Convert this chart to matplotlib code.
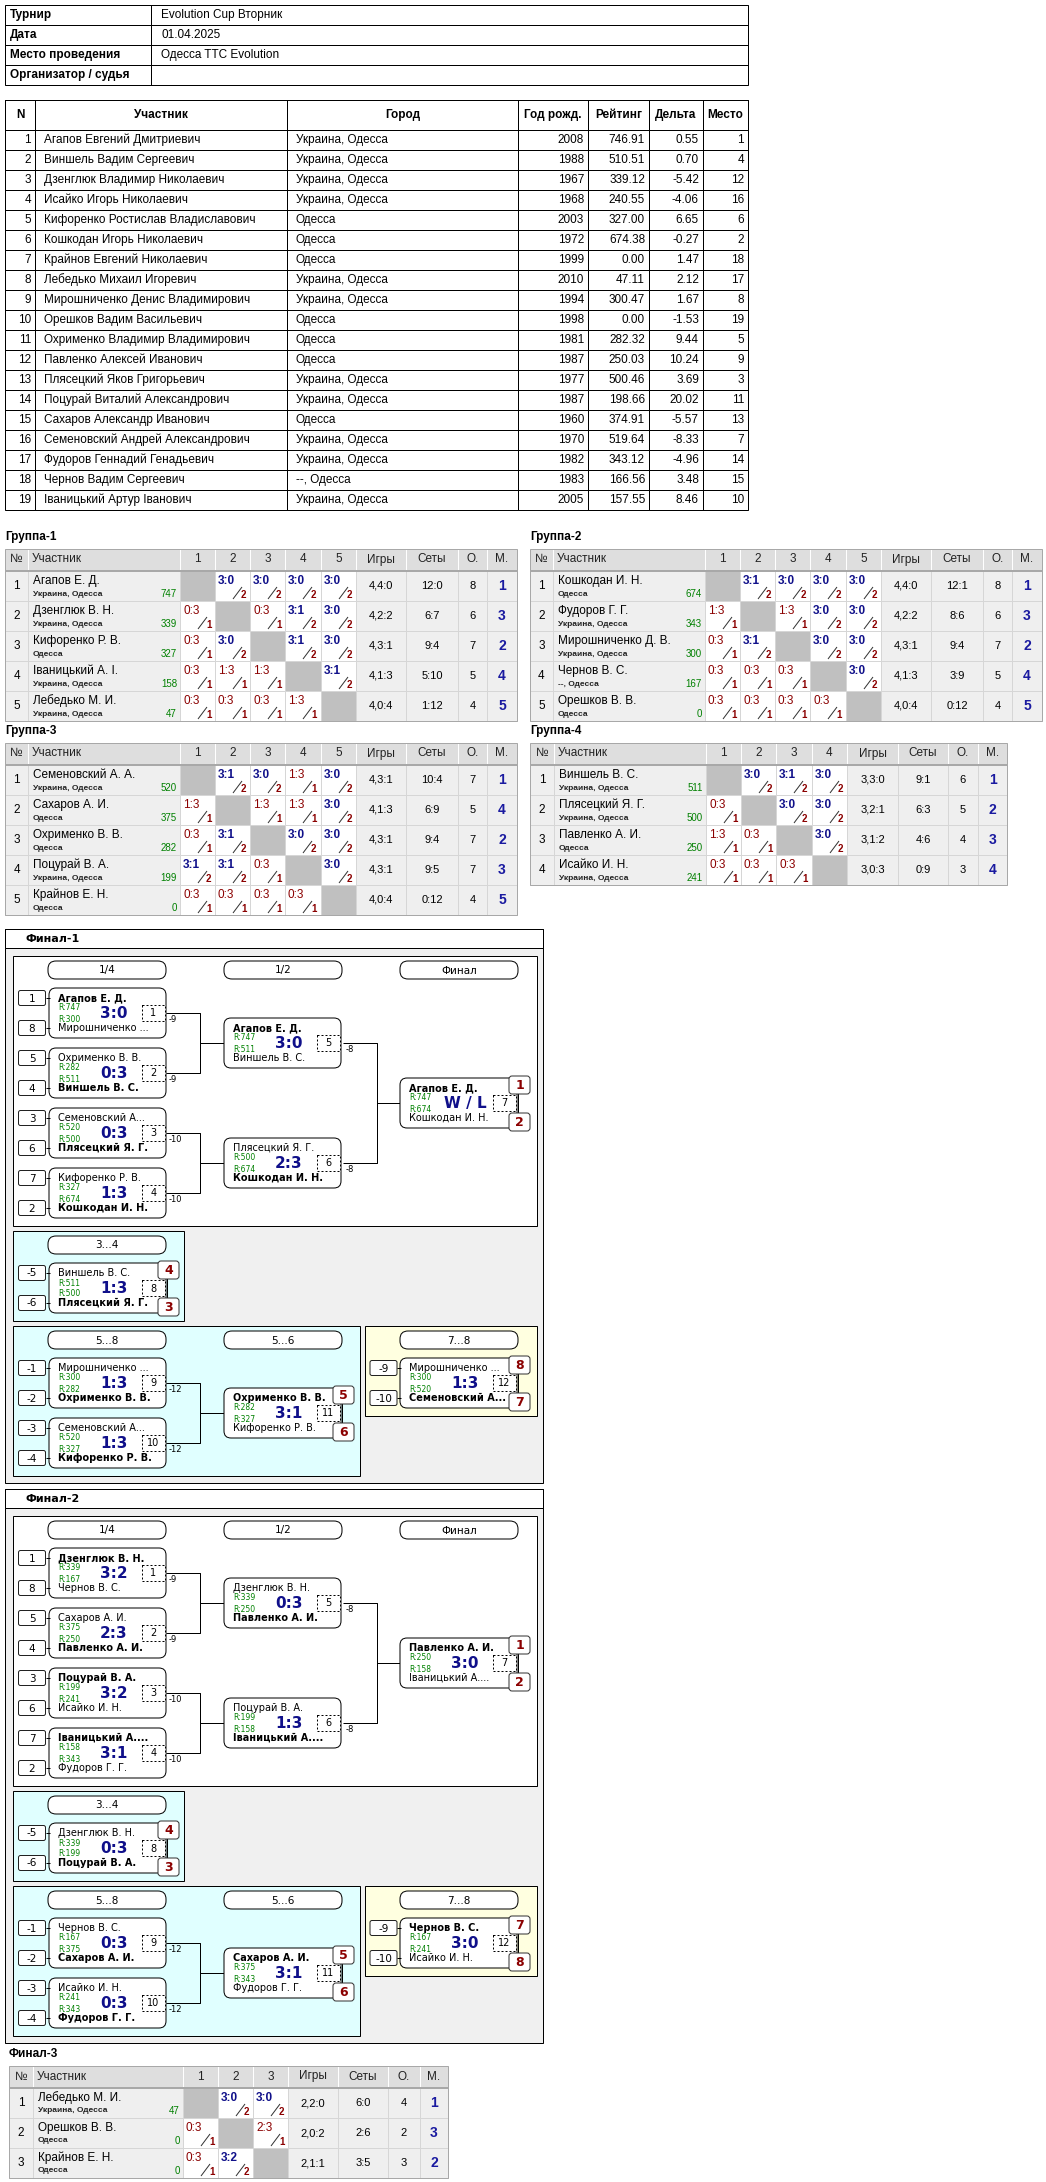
import matplotlib
matplotlib.use("Agg")
import matplotlib.pyplot as plt
from matplotlib.patches import Rectangle, FancyBboxPatch

plt.rcParams['font.family'] = ['Liberation Sans', 'DejaVu Sans']

# ---------------- data ----------------
info_labels = ['Турнир', 'Дата', 'Место проведения', 'Организатор / судья']
info_values = ['Evolution Cup Вторник', '01.04.2025', 'Одесса TTC Evolution', '']

main_cols = ['N', 'Участник', 'Город', 'Год рожд.', 'Рейтинг', 'Дельта', 'Место']
players = ['Агапов Евгений Дмитриевич', 'Виншель Вадим Сергеевич', 'Дзенглюк Владимир Николаевич',
           'Исайко Игорь Николаевич', 'Кифоренко Ростислав Владиславович', 'Кошкодан Игорь Николаевич',
           'Крайнов Евгений Николаевич', 'Лебедько Михаил Игоревич', 'Мирошниченко Денис Владимирович',
           'Орешков Вадим Васильевич', 'Охрименко Владимир Владимирович', 'Павленко Алексей Иванович',
           'Плясецкий Яков Григорьевич', 'Поцурай Виталий Александрович', 'Сахаров Александр Иванович',
           'Семеновский Андрей Александрович', 'Фудоров Геннадий Генадьевич', 'Чернов Вадим Сергеевич',
           'Іваницький Артур Іванович']
cities = ['Украина, Одесса', 'Украина, Одесса', 'Украина, Одесса', 'Украина, Одесса', 'Одесса', 'Одесса',
          'Одесса', 'Украина, Одесса', 'Украина, Одесса', 'Одесса', 'Одесса', 'Одесса', 'Украина, Одесса',
          'Украина, Одесса', 'Одесса', 'Украина, Одесса', 'Украина, Одесса', '--, Одесса', 'Украина, Одесса']
years = [2008, 1988, 1967, 1968, 2003, 1972, 1999, 2010, 1994, 1998, 1981, 1987, 1977, 1987, 1960, 1970,
         1982, 1983, 2005]
ratings = [746.91, 510.51, 339.12, 240.55, 327.00, 674.38, 0.00, 47.11, 300.47, 0.00, 282.32, 250.03,
           500.46, 198.66, 374.91, 519.64, 343.12, 166.56, 157.55]
deltas = [0.55, 0.70, -5.42, -4.06, 6.65, -0.27, 1.47, 2.12, 1.67, -1.53, 9.44, 10.24, 3.69, 20.02,
          -5.57, -8.33, -4.96, 3.48, 8.46]
places = [1, 4, 12, 16, 6, 2, 18, 17, 8, 19, 5, 9, 3, 11, 13, 7, 14, 15, 10]

g1_names = ['Агапов Е. Д.', 'Дзенглюк В. Н.', 'Кифоренко Р. В.', 'Іваницький А. І.', 'Лебедько М. И.']
g1_cities = ['Украина, Одесса', 'Украина, Одесса', 'Одесса', 'Украина, Одесса', 'Украина, Одесса']
g1_rat = [747, 339, 327, 158, 47]
g1_scores = [[None, '3:0', '3:0', '3:0', '3:0'], ['0:3', None, '0:3', '3:1', '3:0'],
             ['0:3', '3:0', None, '3:1', '3:0'], ['0:3', '1:3', '1:3', None, '3:1'],
             ['0:3', '0:3', '0:3', '1:3', None]]
g1_games = ['4,4:0', '4,2:2', '4,3:1', '4,1:3', '4,0:4']
g1_sets = ['12:0', '6:7', '9:4', '5:10', '1:12']
g1_pts = [8, 6, 7, 5, 4]
g1_place = [1, 3, 2, 4, 5]

g2_names = ['Кошкодан И. Н.', 'Фудоров Г. Г.', 'Мирошниченко Д. В.', 'Чернов В. С.', 'Орешков В. В.']
g2_cities = ['Одесса', 'Украина, Одесса', 'Украина, Одесса', '--, Одесса', 'Одесса']
g2_rat = [674, 343, 300, 167, 0]
g2_scores = [[None, '3:1', '3:0', '3:0', '3:0'], ['1:3', None, '1:3', '3:0', '3:0'],
             ['0:3', '3:1', None, '3:0', '3:0'], ['0:3', '0:3', '0:3', None, '3:0'],
             ['0:3', '0:3', '0:3', '0:3', None]]
g2_games = ['4,4:0', '4,2:2', '4,3:1', '4,1:3', '4,0:4']
g2_sets = ['12:1', '8:6', '9:4', '3:9', '0:12']
g2_pts = [8, 6, 7, 5, 4]
g2_place = [1, 3, 2, 4, 5]

g3_names = ['Семеновский А. А.', 'Сахаров А. И.', 'Охрименко В. В.', 'Поцурай В. А.', 'Крайнов Е. Н.']
g3_cities = ['Украина, Одесса', 'Одесса', 'Одесса', 'Украина, Одесса', 'Одесса']
g3_rat = [520, 375, 282, 199, 0]
g3_scores = [[None, '3:1', '3:0', '1:3', '3:0'], ['1:3', None, '1:3', '1:3', '3:0'],
             ['0:3', '3:1', None, '3:0', '3:0'], ['3:1', '3:1', '0:3', None, '3:0'],
             ['0:3', '0:3', '0:3', '0:3', None]]
g3_games = ['4,3:1', '4,1:3', '4,3:1', '4,3:1', '4,0:4']
g3_sets = ['10:4', '6:9', '9:4', '9:5', '0:12']
g3_pts = [7, 5, 7, 7, 4]
g3_place = [1, 4, 2, 3, 5]

g4_names = ['Виншель В. С.', 'Плясецкий Я. Г.', 'Павленко А. И.', 'Исайко И. Н.']
g4_cities = ['Украина, Одесса', 'Украина, Одесса', 'Одесса', 'Украина, Одесса']
g4_rat = [511, 500, 250, 241]
g4_scores = [[None, '3:0', '3:1', '3:0'], ['0:3', None, '3:0', '3:0'],
             ['1:3', '0:3', None, '3:0'], ['0:3', '0:3', '0:3', None]]
g4_games = ['3,3:0', '3,2:1', '3,1:2', '3,0:3']
g4_sets = ['9:1', '6:3', '4:6', '0:9']
g4_pts = [6, 5, 4, 3]
g4_place = [1, 2, 3, 4]

f3_names = ['Лебедько М. И.', 'Орешков В. В.', 'Крайнов Е. Н.']
f3_cities = ['Украина, Одесса', 'Одесса', 'Одесса']
f3_rat = [47, 0, 0]
f3_scores = [[None, '3:0', '3:0'], ['0:3', None, '2:3'], ['0:3', '3:2', None]]
f3_games = ['2,2:0', '2,0:2', '2,1:1']
f3_sets = ['6:0', '2:6', '3:5']
f3_pts = [4, 2, 3]
f3_place = [1, 3, 2]

# bracket matches: (top, top rating, bottom, bottom rating, score, winner 0=top 1=bottom)
f1_matches = [
    ('Агапов Е. Д.', 747, 'Мирошниченко ...', 300, '3:0', 0),
    ('Охрименко В. В.', 282, 'Виншель В. С.', 511, '0:3', 1),
    ('Семеновский А...', 520, 'Плясецкий Я. Г.', 500, '0:3', 1),
    ('Кифоренко Р. В.', 327, 'Кошкодан И. Н.', 674, '1:3', 1),
    ('Агапов Е. Д.', 747, 'Виншель В. С.', 511, '3:0', 0),
    ('Плясецкий Я. Г.', 500, 'Кошкодан И. Н.', 674, '2:3', 1),
    ('Агапов Е. Д.', 747, 'Кошкодан И. Н.', 674, 'W / L', 0),
    ('Виншель В. С.', 511, 'Плясецкий Я. Г.', 500, '1:3', 1),
    ('Мирошниченко ...', 300, 'Охрименко В. В.', 282, '1:3', 1),
    ('Семеновский А...', 520, 'Кифоренко Р. В.', 327, '1:3', 1),
    ('Охрименко В. В.', 282, 'Кифоренко Р. В.', 327, '3:1', 0),
    ('Мирошниченко ...', 300, 'Семеновский А...', 520, '1:3', 1),
]
f1_places = {7: (1, 2), 8: (4, 3), 11: (5, 6), 12: (8, 7)}

f2_matches = [
    ('Дзенглюк В. Н.', 339, 'Чернов В. С.', 167, '3:2', 0),
    ('Сахаров А. И.', 375, 'Павленко А. И.', 250, '2:3', 1),
    ('Поцурай В. А.', 199, 'Исайко И. Н.', 241, '3:2', 0),
    ('Іваницький А....', 158, 'Фудоров Г. Г.', 343, '3:1', 0),
    ('Дзенглюк В. Н.', 339, 'Павленко А. И.', 250, '0:3', 1),
    ('Поцурай В. А.', 199, 'Іваницький А....', 158, '1:3', 1),
    ('Павленко А. И.', 250, 'Іваницький А....', 158, '3:0', 0),
    ('Дзенглюк В. Н.', 339, 'Поцурай В. А.', 199, '0:3', 1),
    ('Чернов В. С.', 167, 'Сахаров А. И.', 375, '0:3', 1),
    ('Исайко И. Н.', 241, 'Фудоров Г. Г.', 343, '0:3', 1),
    ('Сахаров А. И.', 375, 'Фудоров Г. Г.', 343, '3:1', 0),
    ('Чернов В. С.', 167, 'Исайко И. Н.', 241, '3:0', 0),
]
f2_places = {7: (1, 2), 8: (4, 3), 11: (5, 6), 12: (7, 8)}

qf_seeds = ['1', '8', '5', '4', '3', '6', '7', '2']
qf_losers = ['-9', '-9', '-10', '-10']
sf_losers = ['-8', '-8']
s34_seeds = ['-5', '-6']
s58_seeds = ['-1', '-2', '-3', '-4']
s58_losers = ['-12', '-12']
s78_seeds = ['-9', '-10']

# ---------------- drawing helpers ----------------
fig = plt.figure(figsize=(10.46, 21.82), dpi=100)
ax = fig.add_axes([0, 0, 1, 1])
ax.set_xlim(0, 1046)
ax.set_ylim(2182, 0)
ax.axis('off')

PX = 0.72
BLUE = '#10108a'
RED = '#8b0000'
GREEN = '#008000'


def rect(x0, y0, x1, y1, fc='none', ec='black', lw=1, ls='-', z=1):
    ax.add_patch(Rectangle((x0, y0), x1 - x0, y1 - y0, fc=fc, ec=ec, lw=lw * PX, ls=ls, zorder=z))


def rbox(x0, y0, w, h, r=6, fc='white', ec='black', lw=1, z=2):
    ax.add_patch(FancyBboxPatch((x0, y0), w, h, boxstyle=f'round,pad=0,rounding_size={r}',
                                fc=fc, ec=ec, lw=lw * PX, zorder=z))


def txt(x, y, s, size=8.5, ha='left', **kw):
    ax.text(x, y, s, fontsize=size, ha=ha, va='center', **kw)


def line(xs, ys, lw=1, color='black', z=1):
    ax.plot(xs, ys, color=color, lw=lw * PX, zorder=z, solid_capstyle='butt')


# ---------------- info table ----------------
for i, (lab, val) in enumerate(zip(info_labels, info_values)):
    y = 5 + 20 * i
    rect(5, y, 151, y + 20)
    rect(151, y, 748, y + 20)
    txt(10, y + 10, lab, size=8.5, weight='bold')
    txt(161, y + 10, val, size=8.5)

# ---------------- main table ----------------
mx = [5, 35, 287, 518, 588, 649, 703, 748]
rect(mx[0], 100, mx[-1], 130)
for k, c in enumerate(main_cols):
    rect(mx[k], 100, mx[k + 1], 130)
    txt((mx[k] + mx[k + 1]) / 2, 115, c, size=8.5, ha='center', weight='bold')
for i in range(len(players)):
    y = 130 + 20 * i
    vals = [str(i + 1), players[i], cities[i], str(years[i]), f'{ratings[i]:.2f}',
            f'{deltas[i]:.2f}', str(places[i])]
    for k, v in enumerate(vals):
        rect(mx[k], y, mx[k + 1], y + 20)
        if k in (1, 2):
            txt(mx[k] + 9, y + 10, v)
        else:
            txt(mx[k + 1] - 4, y + 10, v, ha='right')


# ---------------- group tables ----------------
def draw_group(x0, y0, title, edges, names, cty, rat, scores, games, sets, pts, plc):
    n = len(names)
    e = [x0 + v for v in edges]
    txt(e[0], y0 - 12, title, size=8.5, weight='bold')
    hy0, hy1 = y0, y0 + 21
    heads = ['№', 'Участник'] + [str(k + 1) for k in range(n)] + ['Игры', 'Сеты', 'О.', 'М.']
    for k, h in enumerate(heads):
        rect(e[k], hy0, e[k + 1], hy1, fc='#dedede', ec='white', lw=1)
        if k == 1:
            txt(e[k] + 4, (hy0 + hy1) / 2, h, size=8.5, color='#222222')
        else:
            txt((e[k] + e[k + 1]) / 2, (hy0 + hy1) / 2, h, size=8.5, ha='center', color='#222222')
    line([e[0], e[-1]], [hy1 + 0.5, hy1 + 0.5], lw=2, color='#a8a8a8', z=3)
    for i in range(n):
        y = hy1 + 1 + 30 * i
        for k in range(len(heads)):
            fc = '#efefef'
            if 2 <= k < 2 + n:
                fc = '#c0c0c0' if (k - 2) == i else 'white'
            rect(e[k], y, e[k + 1], y + 30, fc=fc, ec='#d6d6d6', lw=1)
        txt((e[0] + e[1]) / 2, y + 15, str(i + 1), size=8.5, ha='center')
        txt(e[1] + 5, y + 10, names[i], size=8.5)
        txt(e[1] + 5, y + 23, cty[i], size=6, weight='bold', color='#222222')
        txt(e[2] - 3, y + 23, str(rat[i]), size=7, ha='right', color=GREEN)
        for j in range(n):
            s = scores[i][j]
            if s is None:
                continue
            cx = e[2 + j]
            a, b = s.split(':')
            win = int(a) > int(b)
            txt(cx + 3, y + 10, s, size=8.5, color=BLUE if win else RED,
                weight='bold' if win else 'normal')
            line([cx + 18, cx + 27], [y + 28, y + 16], lw=1, color='#333333', z=3)
            txt(cx + 26, y + 24, '2' if win else '1', size=7, color=RED, weight='bold')
        base = 2 + n
        for k, v in enumerate([games[i], sets[i], str(pts[i])]):
            txt((e[base + k] + e[base + k + 1]) / 2, y + 15, v, size=8, ha='center')
        txt((e[base + 3] + e[base + 4]) / 2, y + 15, str(plc[i]), size=10, ha='center',
            weight='bold', color='#1a1aa0')
    rect(e[0], hy0, e[-1], hy1 + 1 + 30 * n, ec='#a8a8a8', lw=1, z=3)


ed5 = [0, 23, 175, 210, 245, 280, 316, 351, 401, 453, 482, 512]
ed4 = [0, 24, 176, 211, 246, 282, 317, 368, 418, 448, 477]
draw_group(5, 549, 'Группа-1', ed5, g1_names, g1_cities, g1_rat, g1_scores, g1_games, g1_sets, g1_pts, g1_place)
draw_group(530, 549, 'Группа-2', ed5, g2_names, g2_cities, g2_rat, g2_scores, g2_games, g2_sets, g2_pts, g2_place)
draw_group(5, 743, 'Группа-3', ed5, g3_names, g3_cities, g3_rat, g3_scores, g3_games, g3_sets, g3_pts, g3_place)
draw_group(530, 743, 'Группа-4', ed4, g4_names, g4_cities, g4_rat, g4_scores, g4_games, g4_sets, g4_pts, g4_place)


# ---------------- brackets ----------------
BF = 'DejaVu Sans'


def pill(x, y, label):
    rbox(x, y, 118, 18, r=8)
    ax.text(x + 59, y + 9.5, label, fontsize=7.5, ha='center', va='center', family=BF, zorder=4)


def seed(x, y, label):
    rbox(x, y - 7.5, 27, 15, r=2, ec='#222222')
    line([x + 27, x + 31], [y, y], z=3)
    ax.text(x + 13.5, y + 0.5, label, fontsize=7.5, ha='center', va='center', family=BF, zorder=4)


def match(x, y, m, num, plc=None):
    top, rt, bot, rb, score, win = m
    rbox(x, y, 117, 50, r=7)
    ax.text(x + 9, y + 10, top, fontsize=7, family=BF, va='center', zorder=4,
            weight='bold' if win == 0 else 'normal')
    ax.text(x + 9, y + 40, bot, fontsize=7, family=BF, va='center', zorder=4,
            weight='bold' if win == 1 else 'normal')
    ax.text(x + 9, y + 20, f'R:{rt}', fontsize=5.5, family=BF, va='center', color=GREEN, zorder=4)
    ax.text(x + 9, y + 31, f'R:{rb}', fontsize=5.5, family=BF, va='center', color=GREEN, zorder=4)
    ax.text(x + 65, y + 25.5, score, fontsize=11, family=BF, ha='center', va='center',
            weight='bold', color=BLUE, zorder=4)
    rect(x + 93, y + 17, x + 116, y + 33, fc='white', ec='black', lw=1, ls=(0, (2, 2)), z=3)
    ax.text(x + 104.5, y + 25.5, str(num), fontsize=7, family=BF, ha='center', va='center', zorder=4)
    if plc:
        line([x + 118, x + 118], [y + 10, y + 40], z=3)
        for k, yy in enumerate([y - 2, y + 35]):
            rbox(x + 109, yy, 21, 18, r=3, ec='#333333', z=5)
            ax.text(x + 119.5, yy + 9.5, str(plc[k]), fontsize=9, family=BF, ha='center',
                    va='center', weight='bold', color=RED, zorder=6)


def lbl(x, y, s):
    ax.text(x, y, s, fontsize=6, family=BF, va='center', zorder=4)


def join(x0, ya, yb, xm, x1):
    line([x0, xm, xm, x0], [ya, ya, yb, yb])
    line([xm, x1], [(ya + yb) / 2, (ya + yb) / 2])


def draw_final(y0, title, ms, plcs):
    rect(5, y0 - 1, 543, y0 + 553, fc='#f0f0f0', ec='black', lw=1)
    rect(5, y0 - 1, 543, y0 + 18, fc='white', ec='black', lw=1)
    ax.text(25, y0 + 9, title, fontsize=8, family=BF, weight='bold', va='center')
    # main panel
    rect(12.5, y0 + 26, 537, y0 + 296, fc='white', ec='black', lw=1)
    for px, lab in zip([48, 224, 400], ['1/4', '1/2', 'Финал']):
        pill(px, y0 + 31, lab)
    qy = [y0 + 58 + 60 * i for i in range(4)]
    for i in range(4):
        join(166, qy[i] + 25, qy[i] + 25, 166, 166)
    join(166, qy[0] + 25, qy[1] + 25, 200, 224)
    join(166, qy[2] + 25, qy[3] + 25, 200, 224)
    for i in range(4):
        seed(18.5, qy[i] + 10, qf_seeds[2 * i])
        seed(18.5, qy[i] + 40, qf_seeds[2 * i + 1])
        match(49, qy[i], ms[i], i + 1)
        lbl(169, qy[i] + 32, qf_losers[i])
    sy = [y0 + 88, y0 + 208]
    join(343, sy[0] + 25, sy[1] + 25, 377, 400)
    for i in range(2):
        match(224, sy[i], ms[4 + i], 5 + i)
        lbl(346, sy[i] + 32, sf_losers[i])
    match(400, y0 + 148, ms[6], 7, plcs.get(7))
    # 3..4
    rect(12.5, y0 + 301, 184, y0 + 391, fc='#e0ffff', ec='black', lw=1)
    pill(48, y0 + 306, '3...4')
    seed(18.5, y0 + 343, s34_seeds[0])
    seed(18.5, y0 + 373, s34_seeds[1])
    match(49, y0 + 333, ms[7], 8, plcs.get(8))
    # 5..8
    rect(12.5, y0 + 396, 360, y0 + 546, fc='#e0ffff', ec='black', lw=1)
    pill(48, y0 + 401, '5...8')
    pill(224, y0 + 401, '5...6')
    fy = [y0 + 428, y0 + 488]
    join(166, fy[0] + 25, fy[1] + 25, 200, 224)
    for i in range(2):
        seed(18.5, fy[i] + 10, s58_seeds[2 * i])
        seed(18.5, fy[i] + 40, s58_seeds[2 * i + 1])
        match(49, fy[i], ms[8 + i], 9 + i)
        lbl(169, fy[i] + 32, s58_losers[i])
    match(224, y0 + 458, ms[10], 11, plcs.get(11))
    # 7..8
    rect(365, y0 + 396, 537, y0 + 486, fc='#ffffe0', ec='black', lw=1)
    pill(400, y0 + 401, '7...8')
    seed(370, y0 + 438, s78_seeds[0])
    seed(370, y0 + 468, s78_seeds[1])
    match(400, y0 + 428, ms[11], 12, plcs.get(12))


draw_final(930, 'Финал-1', f1_matches, f1_places)
draw_final(1490, 'Финал-2', f2_matches, f2_places)

draw_group(9, 2066, 'Финал-3', [0, 24, 174, 209, 244, 279, 329, 379, 411, 439],
           f3_names, f3_cities, f3_rat, f3_scores, f3_games, f3_sets, f3_pts, f3_place)

fig.savefig('out.png', dpi=100)
